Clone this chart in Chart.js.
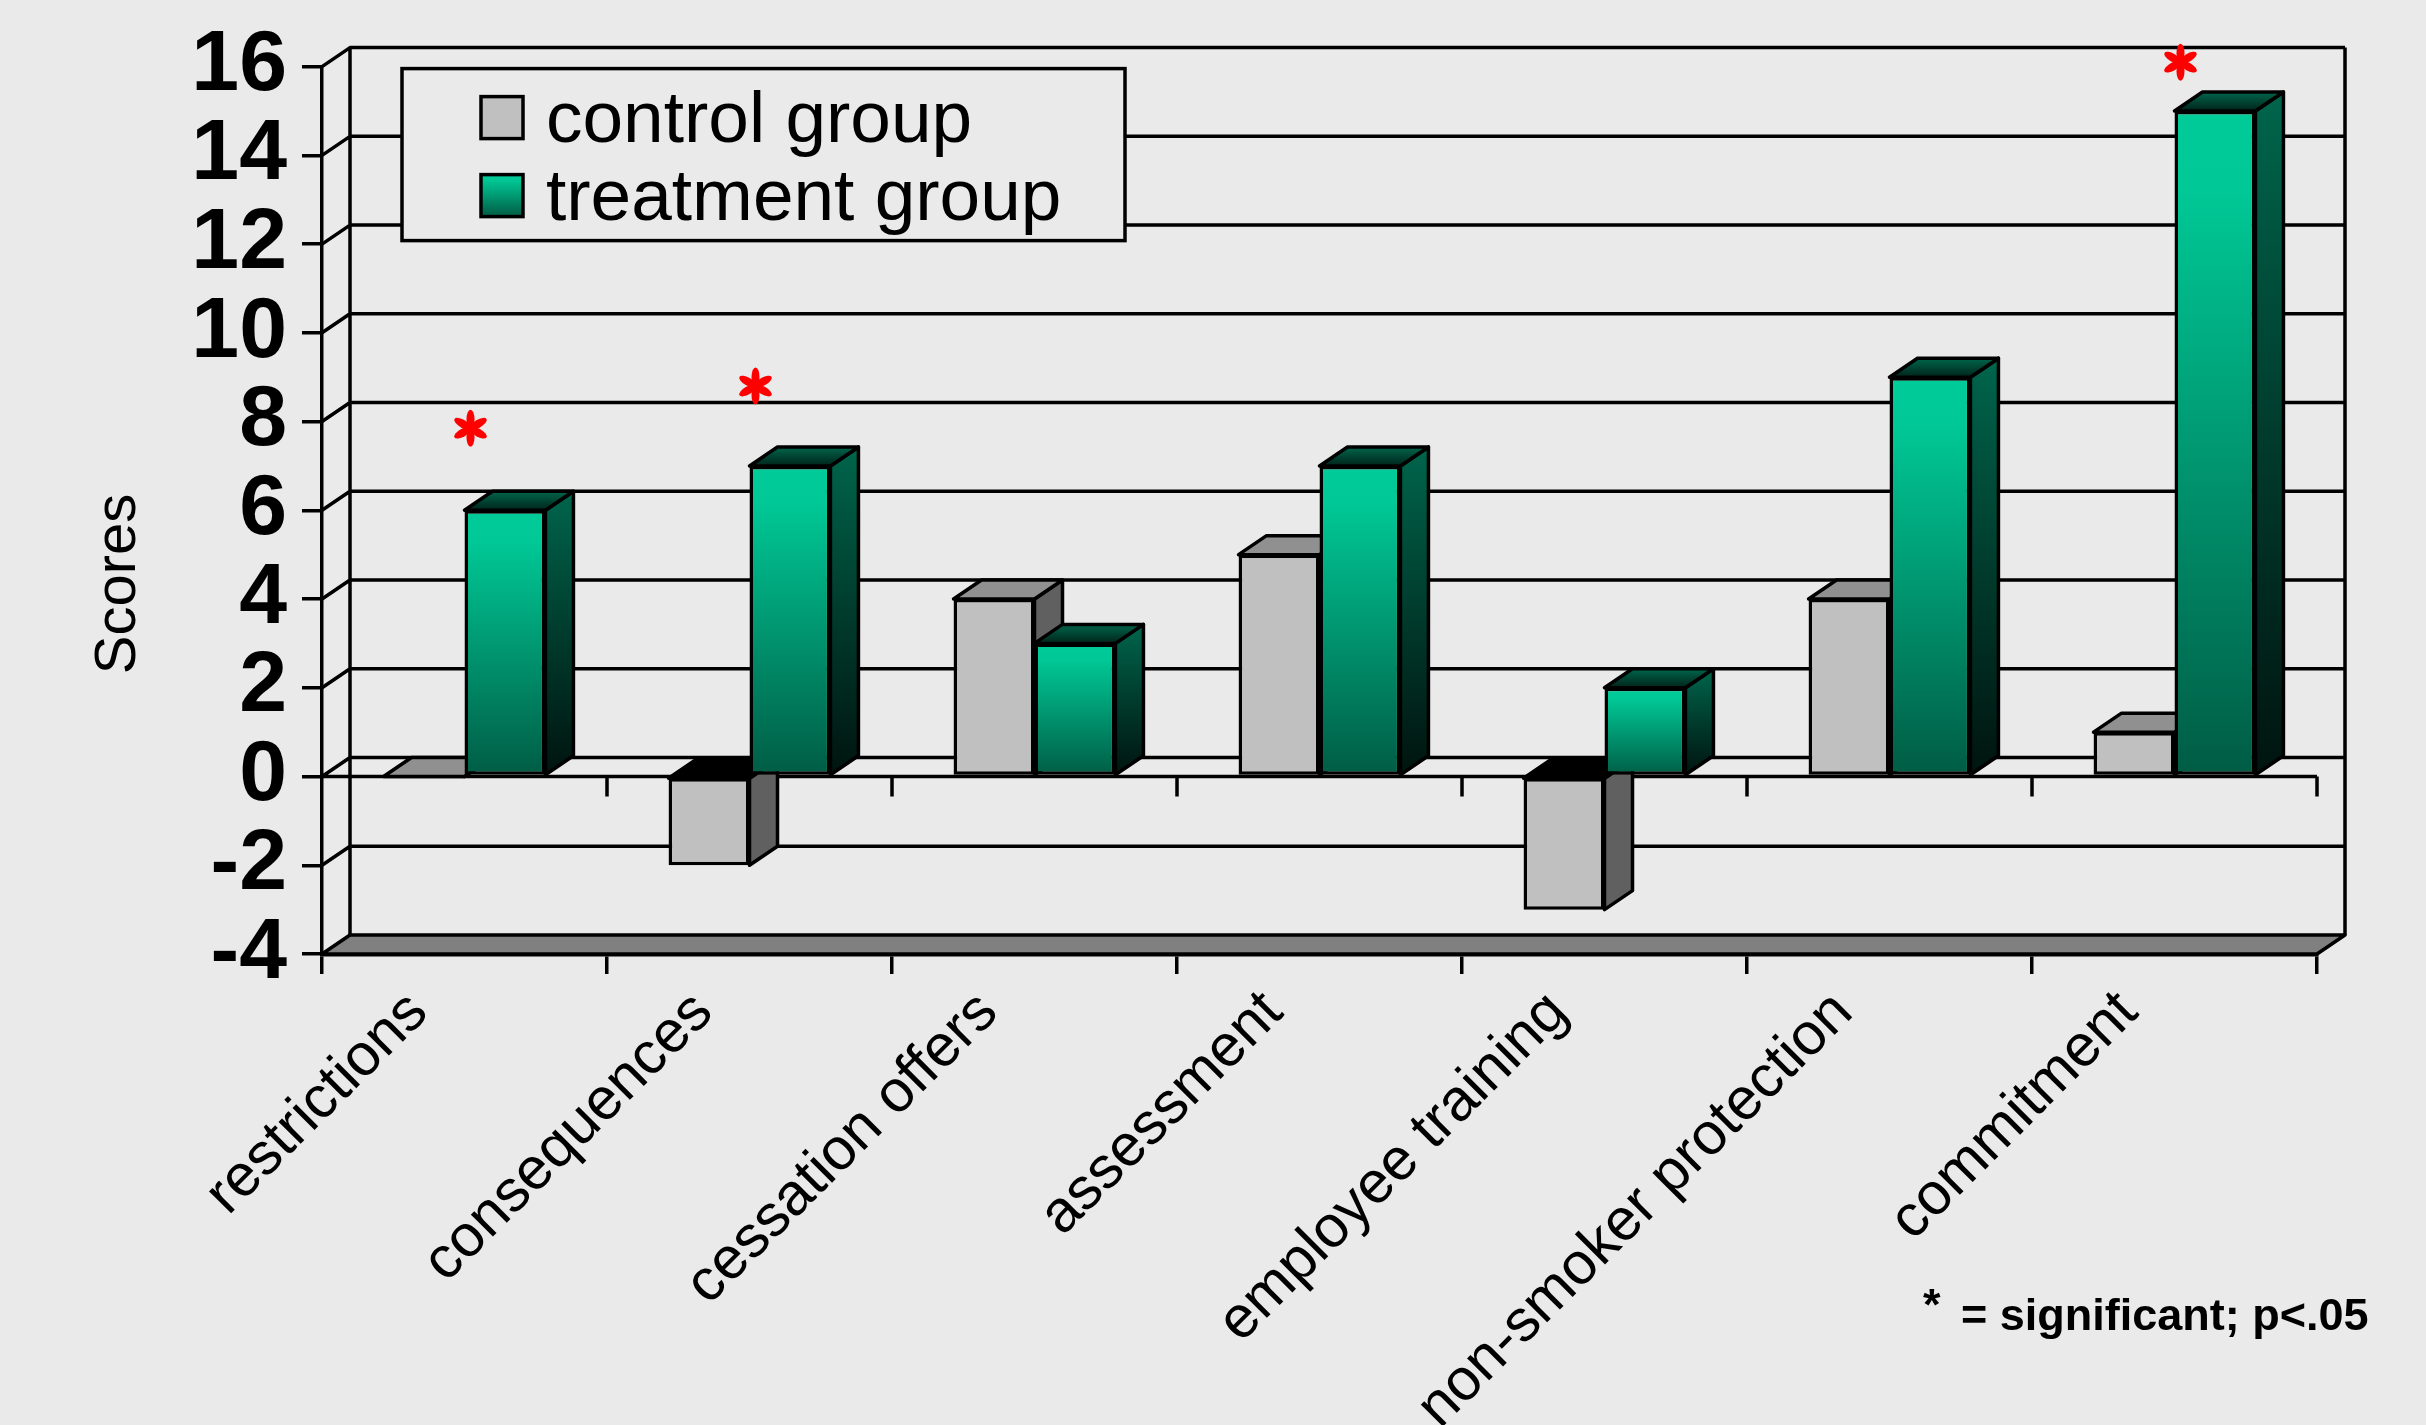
<!DOCTYPE html>
<html>
<head>
<meta charset="utf-8">
<script src="https://cdn.jsdelivr.net/npm/chart.js@4.4.0/dist/chart.umd.min.js"></script>
<style>
    html, body { margin: 0; padding: 0; background: #eaeaea; }
    canvas { display: block; }
</style>
</head>
<body>
<canvas id="scores" width="2426" height="1425"></canvas>
<script>
const categories = ["restrictions", "consequences", "cessation offers", "assessment", "employee training", "non-smoker protection", "commitment"];
const seriesNames = ["control group", "treatment group"];
const controlScores = [0, -2, 4, 5, -3, 4, 1];
const treatmentScores = [6, 7, 3, 7, 2, 9, 15];
const yTicks = [-4, -2, 0, 2, 4, 6, 8, 10, 12, 14, 16];
// red asterisks: category index and the score level they sit at
const starCategories = [0, 1, 6];
const starLevels = [7.85, 8.8, 16.1];

const DX = 28, DY = 19;
const BG = "#eaeaea";
const FONT = "'Liberation Sans', Arial, sans-serif";

Chart.defaults.font.family = FONT;
Chart.defaults.color = "#000";

function vGrad(ctx, y0, y1, stops) {
    const g = ctx.createLinearGradient(0, y0, 0, y1);
    stops.forEach(([p, c]) => g.addColorStop(p, c));
    return g;
}

const frontStops = [[0, "#00cc99"], [0.12, "#00c896"], [1, "#005c44"]];

function treatmentFront(c) {
    const y = c.chart.scales.y;
    if (c.type !== "data" || !y) return "#00c896";
    const top = y.getPixelForValue(c.raw), base = y.getPixelForValue(0);
    if (!isFinite(top) || !isFinite(base)) return "#00c896";
    return vGrad(c.chart.ctx, Math.min(top, base), Math.max(top, base) + 0.1, frontStops);
}

function poly(ctx, pts, fill) {
    ctx.beginPath();
    pts.forEach(([px, py], i) => i ? ctx.lineTo(px, py) : ctx.moveTo(px, py));
    ctx.closePath();
    ctx.fillStyle = fill;
    ctx.fill();
    ctx.stroke();
}

const box3d = {
    id: "box3d",
    beforeDatasetsDraw(chart) {
        const {ctx, chartArea: a, scales: {x, y}} = chart;
        ctx.save();
        ctx.strokeStyle = "#000";
        ctx.lineWidth = 3.5;
        ctx.lineJoin = "round";

        // floor
        const fy = y.getPixelForValue(yTicks[0]);
        poly(ctx, [[a.left, fy], [a.right, fy], [a.right + DX, fy - DY], [a.left + DX, fy - DY]], "#808080");

        // back wall + left side
        ctx.beginPath();
        yTicks.slice(1).forEach(v => {
            const py = y.getPixelForValue(v);
            ctx.moveTo(a.left, py);
            ctx.lineTo(a.left + DX, py - DY);
            ctx.lineTo(a.right + DX, py - DY);
        });
        ctx.moveTo(a.left + DX, a.top - DY); ctx.lineTo(a.left + DX, fy - DY);
        ctx.moveTo(a.right + DX, a.top - DY); ctx.lineTo(a.right + DX, fy - DY);

        // front edge of the zero plane, with its ticks
        const zy = y.getPixelForValue(0);
        ctx.moveTo(a.left, zy); ctx.lineTo(a.right, zy);
        for (let i = 0; i < categories.length; i++) {
            const px = x.getPixelForValue(i + 0.5);
            ctx.moveTo(px, zy); ctx.lineTo(px, zy + 20);
        }
        ctx.stroke();

        // top and right faces of the bars
        const metas = [chart.getDatasetMeta(0), chart.getDatasetMeta(1)];
        categories.forEach((cat, i) => {
            metas.forEach((meta, d) => {
                const {x: bx, y: by, base, width} = meta.data[i].getProps(["x", "y", "base", "width"], true);
                const l = bx - width / 2, r = bx + width / 2;
                const top = Math.min(by, base), bottom = Math.max(by, base);
                const neg = by > base;
                let side, lid;
                if (d === 0) {
                    side = "#606060";
                    lid = neg ? "#000" : "#909090";
                } else {
                    side = vGrad(ctx, top - DY, bottom, [[0, "#00654c"], [0.5, "#003c2d"], [1, "#00140f"]]);
                    lid = vGrad(ctx, top - DY, top, [[0, "#00664c"], [1, "#00241b"]]);
                }
                poly(ctx, [[r, top], [r + DX, top - DY], [r + DX, bottom - DY], [r, bottom]], side);
                poly(ctx, [[l, top], [r, top], [r + DX, top - DY], [l + DX, top - DY]], lid);
            });
        });
        ctx.restore();
    },
    afterDatasetsDraw(chart) {
        const {ctx, chartArea: a, scales: {x, y}} = chart;
        ctx.save();

        // legend
        ctx.strokeStyle = "#000";
        ctx.lineWidth = 3.5;
        ctx.fillStyle = BG;
        ctx.fillRect(a.left + 80, a.top + 2, 723, 172);
        ctx.strokeRect(a.left + 80, a.top + 2, 723, 172);
        const swatches = ["#c0c0c0", vGrad(ctx, a.top + 108, a.top + 150, frontStops)];
        chart.data.datasets.forEach((ds, i) => {
            const sy = a.top + 30 + i * 78;
            ctx.fillStyle = swatches[i];
            ctx.fillRect(a.left + 159, sy, 42, 42);
            ctx.strokeRect(a.left + 159, sy, 42, 42);
            ctx.fillStyle = "#000";
            ctx.font = "73px " + FONT;
            ctx.textBaseline = "alphabetic";
            ctx.fillText(ds.label, a.left + 224, sy + 45);
        });

        // significance asterisks
        ctx.fillStyle = "#ff0000";
        starCategories.forEach((ci, k) => {
            const cx = x.getPixelForValue(ci) + 6, cy = y.getPixelForValue(starLevels[k]);
            for (let p = 0; p < 6; p++) {
                const ang = Math.PI / 2 + p * Math.PI / 3;
                ctx.beginPath();
                ctx.ellipse(cx + Math.cos(ang) * 9, cy + Math.sin(ang) * 9, 9.5, 4, ang, 0, Math.PI * 2);
                ctx.fill();
            }
        });

        // axis title
        ctx.fillStyle = "#000";
        ctx.font = "58px " + FONT;
        ctx.textAlign = "center";
        ctx.textBaseline = "middle";
        ctx.translate(119, 584);
        ctx.rotate(-Math.PI / 2);
        ctx.fillText("Scores", 0, 0);
        ctx.setTransform(1, 0, 0, 1, 0, 0);

        // footnote
        ctx.textAlign = "left";
        ctx.textBaseline = "alphabetic";
        ctx.font = "bold 45px " + FONT;
        ctx.fillText("*", 1923, 1320);
        ctx.fillText("= significant; p<.05", 1961, 1330);
        ctx.restore();
    }
};

new Chart("scores", {
    type: "bar",
    data: {
        labels: categories,
        datasets: [{
            label: seriesNames[0],
            data: controlScores,
            backgroundColor: "#c0c0c0",
            borderColor: "#000",
            borderWidth: 3.5,
            borderSkipped: false
        }, {
            label: seriesNames[1],
            data: treatmentScores,
            backgroundColor: treatmentFront,
            borderColor: "#000",
            borderWidth: 3.5,
            borderSkipped: false
        }]
    },
    options: {
        responsive: false,
        devicePixelRatio: 1,
        animation: false,
        layout: {padding: {top: 60, right: 109, bottom: 0, left: 0}},
        datasets: {bar: {categoryPercentage: 0.568, barPercentage: 1.0}},
        plugins: {legend: {display: false}, tooltip: {enabled: false}},
        scales: {
            x: {
                afterFit: s => { s.height = 471; },
                grid: {drawOnChartArea: false, tickLength: 20, color: "#000", lineWidth: 3.5},
                border: {color: "#000", width: 4.5},
                ticks: {minRotation: 45, maxRotation: 45, autoSkip: false, padding: 4, labelOffset: -46,
                        font: {size: 59}}
            },
            y: {
                min: -4,
                max: 16,
                afterFit: s => { s.width = 322; },
                afterBuildTicks: s => { s.ticks = yTicks.map(v => ({value: v})); },
                grid: {drawOnChartArea: false, tickLength: 20, color: "#000", lineWidth: 3.5},
                border: {color: "#000", width: 3.5},
                ticks: {autoSkip: false, padding: 15, font: {size: 86, weight: "bold"}}
            }
        }
    },
    plugins: [box3d]
});
</script>
</body>
</html>
